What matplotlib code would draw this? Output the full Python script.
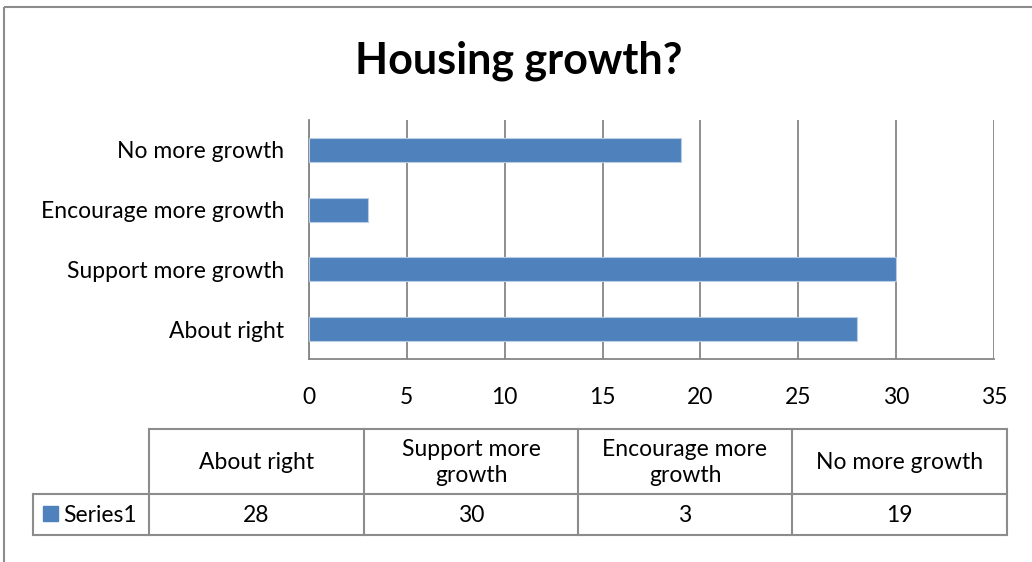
import matplotlib.pyplot as plt
from matplotlib.patches import Rectangle

categories = ["About right", "Support more growth", "Encourage more growth", "No more growth"]
header_labels = ["About right", "Support more\ngrowth", "Encourage more\ngrowth", "No more growth"]
series_name = "Series1"
values = [28, 30, 3, 19]
x_ticks = [0, 5, 10, 15, 20, 25, 30, 35]

W, H = 1032, 562
blue = "#4F81BD"
grey = "#868686"
fs = 16.5
plt.rcParams["font.family"] = ["Lato", "DejaVu Sans"]

fig = plt.figure(figsize=(W / 100, H / 100), dpi=100)

# background layer in pixel coords for border + data table
bg = fig.add_axes([0, 0, 1, 1])
bg.set_xlim(0, W)
bg.set_ylim(H, 0)
bg.axis("off")
bg.add_patch(Rectangle((4, 7), W + 10, H + 10, fill=False, edgecolor="#8c8c8c", lw=1.5))

fig.text(519 / W, 1 - 61 / H, "Housing growth?", ha="center", va="center",
         fontsize=31, fontweight="bold")

# bar chart
ax = fig.add_axes([309 / W, 1 - 359 / H, (994 - 309) / W, (359 - 120) / H])
ax.barh(range(len(categories)), values, height=0.4, color=blue,
        edgecolor="#B9CDE5", linewidth=0.8, zorder=3)
ax.set_xlim(0, 35)
ax.set_ylim(-0.5, len(categories) - 0.5)
ax.set_xticks(x_ticks)
ax.set_yticks(range(len(categories)))
ax.set_yticklabels(categories)
ax.tick_params(length=0, labelsize=fs)
ax.tick_params(axis="x", pad=20)
ax.tick_params(axis="y", pad=18)
ax.grid(axis="x", color=grey, lw=1.3, zorder=0)
for s in ["top", "right"]:
    ax.spines[s].set_visible(False)
for s in ["left", "bottom"]:
    ax.spines[s].set_color(grey)
    ax.spines[s].set_linewidth(1.3)

# data table
cols = [149, 364, 578, 792, 1007]
left = 33
top, mid, bot = 429, 494, 535
lc = "#8c8c8c"
lw = 1.5
bg.plot([cols[0], cols[-1]], [top, top], color=lc, lw=lw)
bg.plot([left, cols[-1]], [mid, mid], color=lc, lw=lw)
bg.plot([left, cols[-1]], [bot, bot], color=lc, lw=lw)
bg.plot([left, left], [mid, bot], color=lc, lw=lw)
for c in cols:
    bg.plot([c, c], [top, bot], color=lc, lw=lw)
for i in range(len(values)):
    cx = (cols[i] + cols[i + 1]) / 2
    bg.text(cx, (top + mid) / 2 + 1, header_labels[i], ha="center", va="center",
            fontsize=fs, linespacing=1.35)
    bg.text(cx, (mid + bot) / 2 + 1, str(values[i]), ha="center", va="center", fontsize=fs)
bg.add_patch(Rectangle((43, 506), 15, 15, color=blue))
bg.text(63, (mid + bot) / 2 + 1, series_name, ha="left", va="center", fontsize=fs)

fig.savefig("out.png", dpi=100)
